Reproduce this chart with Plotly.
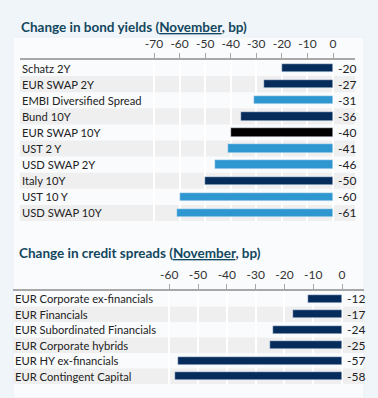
import plotly.graph_objects as go

W, H = 378, 398

bond_labels = ["Schatz 2Y", "EUR SWAP 2Y", "EMBI Diversified Spread", "Bund 10Y",
               "EUR SWAP 10Y", "UST 2 Y", "USD SWAP 2Y", "Italy 10Y", "UST 10 Y", "USD SWAP 10Y"]
bond_values = [-20, -27, -31, -36, -40, -41, -46, -50, -60, -61]
bond_ticks = [-70, -60, -50, -40, -30, -20, -10, 0]

credit_labels = ["EUR Corporate ex-financials", "EUR Financials", "EUR Subordinated Financials",
                 "EUR Corporate hybrids", "EUR HY ex-financials", "EUR Contingent Capital"]
credit_values = [-12, -17, -24, -25, -57, -58]
credit_ticks = [-60, -50, -40, -30, -20, -10, 0]

NAVY = "#062c5c"
LIGHT = "#2f97d0"
BLACK = "#000000"
bond_colors = [NAVY, NAVY, LIGHT, NAVY, BLACK, LIGHT, LIGHT, NAVY, LIGHT, LIGHT]
credit_colors = [NAVY] * len(credit_values)

FONT = "Lato"
TITLE_COLOR = "#13475f"
TEXT_COLOR = "#222222"
BAND = "#efefef"
LABEL_SIZE = 11.2


def px(v):
    return v / W


def py(v):
    return 1 - v / H


fig = go.Figure()

fig.add_trace(go.Bar(x=bond_values, y=bond_labels, orientation="h", marker_color=bond_colors,
                     width=0.52, xaxis="x", yaxis="y", showlegend=False, hoverinfo="x+y"))
fig.add_trace(go.Bar(x=credit_values, y=credit_labels, orientation="h", marker_color=credit_colors,
                     width=0.52, xaxis="x2", yaxis="y2", showlegend=False, hoverinfo="x+y"))

shapes = [
    dict(type="rect", xref="paper", yref="paper", x0=px(13), x1=px(364), y0=py(398), y1=py(37),
         fillcolor="#f9fbfd", line=dict(color="#eaf0f5", width=1), layer="below"),
]
annotations = []


def add_rows(labels, values, xa, ya):
    for i, (lab, v) in enumerate(zip(labels, values)):
        if i % 2 == 1:
            shapes.append(dict(type="rect", xref=f"{xa} domain", yref=ya, x0=0, x1=1,
                               y0=i - 0.5, y1=i + 0.5, fillcolor=BAND, line=dict(width=0),
                               layer="below"))
        annotations.append(dict(text=lab, xref=f"{xa} domain", yref=ya, x=0, y=lab,
                                xanchor="left", yanchor="middle", showarrow=False,
                                font=dict(family=FONT, size=LABEL_SIZE, color=TEXT_COLOR)))
        annotations.append(dict(text=str(v), xref=xa, yref=ya, x=0, y=lab, xshift=3,
                                xanchor="left", yanchor="middle", showarrow=False,
                                font=dict(family=FONT, size=12, color=TEXT_COLOR)))


add_rows(bond_labels, bond_values, "x", "y")
add_rows(credit_labels, credit_values, "x2", "y2")

annotations.append(dict(text="<b>Change in bond yields (<u>November</u>, bp)</b>", xref="paper", yref="paper",
                        x=px(19), y=py(27), xanchor="left", yanchor="middle", showarrow=False,
                        font=dict(family=FONT, size=13.5, color=TITLE_COLOR)))
annotations.append(dict(text="<b>Change in credit spreads (<u>November</u>, bp)</b>", xref="paper", yref="paper",
                        x=px(17), y=py(253), xanchor="left", yanchor="middle", showarrow=False,
                        font=dict(family=FONT, size=13.5, color=TITLE_COLOR)))

xcommon = dict(side="top", showline=True, linecolor="#a8a8a8", linewidth=2, ticks="outside",
               ticklen=5, tickwidth=1, tickcolor="#a8a8a8", showgrid=True, gridcolor="#ffffff",
               gridwidth=1.5, zeroline=False, tickfont=dict(family=FONT, size=12, color="#333333"),
               fixedrange=True)

fig.update_layout(
    width=W, height=H, autosize=False,
    margin=dict(l=0, r=0, t=0, b=0),
    paper_bgcolor="#f0f5f9", plot_bgcolor="rgba(0,0,0,0)",
    bargap=0,
    xaxis=dict(domain=[px(20), px(355)], range=[-122.4, 8.6], anchor="y",
               tickvals=bond_ticks, ticktext=[str(t) for t in bond_ticks], **xcommon),
    yaxis=dict(domain=[py(221), py(60)], range=[len(bond_labels) - 0.5, -0.5], anchor="x",
               showticklabels=False, showgrid=False, zeroline=False, fixedrange=True),
    xaxis2=dict(domain=[px(13), px(364)], range=[-114.2, 7.6], anchor="y2",
                tickvals=credit_ticks, ticktext=[str(t) for t in credit_ticks], **xcommon),
    yaxis2=dict(domain=[py(384), py(291)], range=[len(credit_labels) - 0.5, -0.5], anchor="x2",
                showticklabels=False, showgrid=False, zeroline=False, fixedrange=True),
    shapes=shapes,
    annotations=annotations,
)

fig.write_html("out.html", config={"displayModeBar": False},
               post_script="document.body.style.margin='0';document.body.style.padding='0';")
